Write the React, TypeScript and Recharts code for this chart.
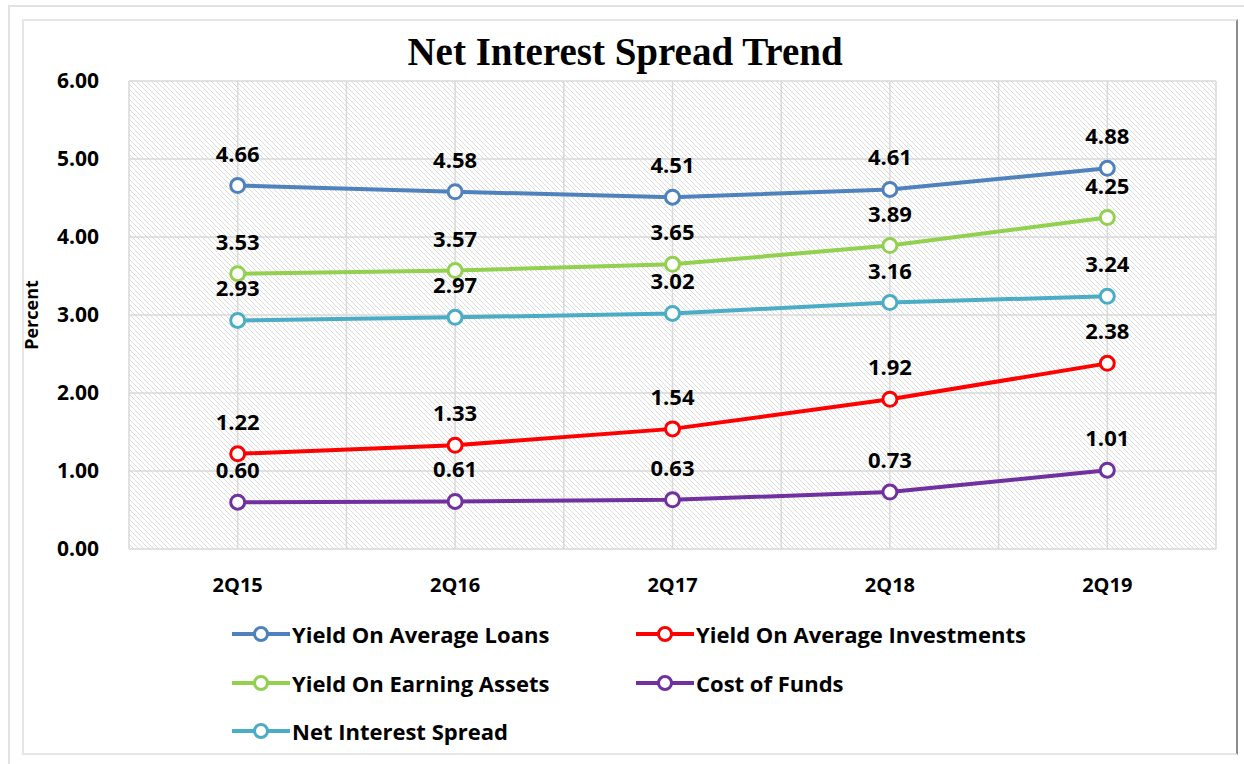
import React from "react";
import { LineChart, Line, XAxis, YAxis, CartesianGrid, LabelList } from "recharts";

const quarters = ["2Q15", "2Q16", "2Q17", "2Q18", "2Q19"];
const yieldAvgLoans = [4.66, 4.58, 4.51, 4.61, 4.88];
const yieldAvgInvestments = [1.22, 1.33, 1.54, 1.92, 2.38];
const yieldEarningAssets = [3.53, 3.57, 3.65, 3.89, 4.25];
const costOfFunds = [0.6, 0.61, 0.63, 0.73, 1.01];
const netInterestSpread = [2.93, 2.97, 3.02, 3.16, 3.24];
const yTicks = [0, 1, 2, 3, 4, 5, 6];

const SERIES = [
  { key: "loans", name: "Yield On Average Loans", color: "#4F81BD", values: yieldAvgLoans },
  { key: "invest", name: "Yield On Average Investments", color: "#FF0000", values: yieldAvgInvestments },
  { key: "earning", name: "Yield On Earning Assets", color: "#92D050", values: yieldEarningAssets },
  { key: "cof", name: "Cost of Funds", color: "#7030A0", values: costOfFunds },
  { key: "nis", name: "Net Interest Spread", color: "#4BACC6", values: netInterestSpread },
];

const data = quarters.map((q, i) => {
  const row: Record<string, string | number> = { quarter: q };
  SERIES.forEach((s) => { row[s.key] = s.values[i]; });
  return row;
});

const FONT = "'Open Sans', sans-serif";

function LegendBox() {
  return (
    <div style={{ display: "grid", gridTemplateColumns: "404px 404px", fontFamily: FONT }}>
      {SERIES.map((s) => (
        <div key={s.key} style={{ display: "flex", alignItems: "center", height: 48.5 }}>
          <svg width={60} height={20} style={{ flex: "none" }}>
            <line x1={0} y1={10} x2={58} y2={10} stroke={s.color} strokeWidth={4} />
            <circle cx={29} cy={10} r={6.5} fill="#fff" stroke={s.color} strokeWidth={3} />
          </svg>
          <span style={{ fontSize: 22, fontWeight: 700, color: "#000" }}>{s.name}</span>
        </div>
      ))}
    </div>
  );
}

export default function App() {
  return (
    <div style={{ position: "absolute", left: 0, top: 0, width: 1244, height: 764, background: "#fff", overflow: "hidden" }}>
      <svg width={0} height={0} style={{ position: "absolute" }}>
        <defs>
          <pattern id="hatch" width={5} height={5} patternUnits="userSpaceOnUse">
            <rect width={5} height={5} fill="#fff" />
            <path d="M-1,-1 L6,6 M-1,4 L1,6 M4,-1 L6,1" stroke="#dcdcdc" strokeWidth={1} />
          </pattern>
        </defs>
      </svg>
      {/* outer frame */}
      <div style={{ position: "absolute", left: 8, top: 5, width: 1240, height: 770, borderLeft: "2px solid #e2e2e2", borderTop: "2px solid #e2e2e2" }} />
      <div style={{ position: "absolute", left: 22, top: 19, width: 1212, height: 732, borderLeft: "2px solid #e6e6e6", borderTop: "2px solid #e6e6e6", borderBottom: "2px solid #e6e6e6", borderRight: "2px solid #8c8c8c" }} />
      <div style={{ position: "absolute", left: 0, top: 27, width: 1250, textAlign: "center", fontFamily: "'Liberation Serif', serif", fontWeight: 700, fontSize: 39, lineHeight: "50px", color: "#000" }}>
        Net Interest Spread Trend
      </div>
      <div style={{ position: "absolute", left: 0, top: 0 }}>
        <LineChart width={1244} height={764} data={data} margin={{ top: 81, right: 28, bottom: 175, left: 49 }}>
          <CartesianGrid
            fill="url(#hatch)"
            fillOpacity={1}
            stroke="#d9d9d9"
            strokeWidth={1.5}
            verticalCoordinatesGenerator={({ offset }: any) =>
              Array.from({ length: 11 }, (_, i) => offset.left + (i * offset.width) / 10)
            }
          />
          <XAxis
            dataKey="quarter"
            height={40}
            axisLine={false}
            tickLine={false}
            tickMargin={23}
            padding={{ left: 108.7, right: 108.7 }}
            tick={{ fontFamily: FONT, fontSize: 20, fontWeight: 700, fill: "#000" }}
          />
          <YAxis
            width={80}
            domain={[0, 6]}
            ticks={yTicks}
            axisLine={false}
            tickLine={false}
            tickMargin={24}
            tickFormatter={(v: number) => v.toFixed(2)}
            tick={{ fontFamily: FONT, fontSize: 21, fontWeight: 700, fill: "#000" }}
            label={{ value: "Percent", angle: -90, position: "insideLeft", dx: -22, style: { fontFamily: FONT, fontSize: 18, fontWeight: 700, fill: "#000", textAnchor: "middle" } }}
          />
          {SERIES.map((s) => (
            <Line
              key={s.key}
              type="linear"
              dataKey={s.key}
              name={s.name}
              stroke={s.color}
              strokeWidth={4}
              dot={{ r: 7, fill: "#fff", stroke: s.color, strokeWidth: 3 }}
              activeDot={false}
              isAnimationActive={false}
            >
              <LabelList
                dataKey={s.key}
                position="top"
                offset={24}
                formatter={(v: any) => Number(v).toFixed(2)}
                style={{ fontFamily: FONT, fontSize: 22, fontWeight: 700, fill: "#000" }}
              />
            </Line>
          ))}
        </LineChart>
      </div>
      <div style={{ position: "absolute", left: 232, top: 610 }}>
        <LegendBox />
      </div>
    </div>
  );
}
